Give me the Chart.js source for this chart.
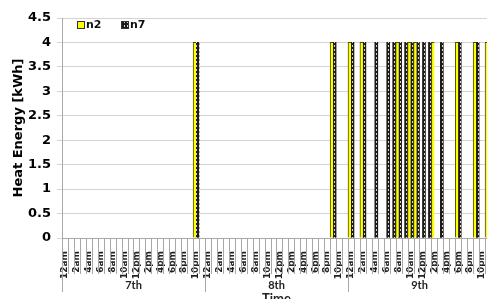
<!DOCTYPE html>
<html lang="en">
<head>
  <meta charset="UTF-8" />
  <title>Heat Energy</title>
  <script src="https://cdn.jsdelivr.net/npm/chart.js"></script>
  <style>
    html, body { margin: 0; padding: 0; background: #fff; overflow: hidden; }
    #wrap { width: 492px; height: 299px; }
  </style>
</head>
<body>
  <div id="wrap"><canvas id="heatChart" width="492" height="299"></canvas></div>

  <script>
    // Days shown on the second axis row, hour labels for each day
    const days = ['7th', '8th', '9th'];
    const hours = ['12am', '1am', '2am', '3am', '4am', '5am', '6am', '7am', '8am', '9am', '10am', '11am',
                   '12pm', '1pm', '2pm', '3pm', '4pm', '5pm', '6pm', '7pm', '8pm', '9pm', '10pm', '11pm'];
    const categories = days.flatMap(() => hours);

    // Heat energy [kWh] per hour, 7th / 8th / 9th
    const n2 = [
      0, 0, 0, 0, 0, 0, 0, 0, 0, 0, 0, 0, 0, 0, 0, 0, 0, 0, 0, 0, 0, 0, 4, 0,
      0, 0, 0, 0, 0, 0, 0, 0, 0, 0, 0, 0, 0, 0, 0, 0, 0, 0, 0, 0, 0, 4, 0, 0,
      4, 0, 4, 0, 0, 0, 0, 0, 4, 0, 4, 4, 0, 0, 4, 0, 0, 0, 4, 0, 0, 4, 0, 4
    ];
    const n7 = [
      0, 0, 0, 0, 0, 0, 0, 0, 0, 0, 0, 0, 0, 0, 0, 0, 0, 0, 0, 0, 0, 0, 4, 0,
      0, 0, 0, 0, 0, 0, 0, 0, 0, 0, 0, 0, 0, 0, 0, 0, 0, 0, 0, 0, 0, 4, 0, 0,
      4, 0, 4, 0, 4, 0, 4, 4, 4, 4, 4, 4, 4, 4, 0, 4, 0, 0, 4, 0, 0, 4, 0, 0
    ];

    const FONT = 'Lato, "Open Sans", sans-serif';
    const WIDE = '"DejaVu Sans", sans-serif';

    // dark hatch for n7
    function hatch() {
      const c = document.createElement('canvas');
      c.width = 3; c.height = 4;
      const g = c.getContext('2d');
      g.fillStyle = '#1e1b1b';
      g.fillRect(0, 0, 3, 4);
      g.fillStyle = '#d8d0d0';
      g.fillRect(1, 1, 1, 2);
      return g.createPattern(c, 'repeat');
    }
    const n7Fill = hatch();

    // tick lines, day row, "Time" and the legend
    const axisExtras = {
      id: 'axisExtras',
      afterDraw(chart) {
        const { ctx, chartArea: a, scales: { x } } = chart;
        const slot = x.getPixelForValue(1) - x.getPixelForValue(0);
        ctx.save();
        ctx.strokeStyle = '#a8a8a8';
        ctx.lineWidth = 1;
        for (let i = 0; i <= categories.length; i++) {
          const px = Math.round(x.getPixelForValue(0) - slot / 2 + i * slot) + 0.5;
          const len = i % hours.length === 0 ? 54 : 36;
          ctx.beginPath();
          ctx.moveTo(px, a.bottom + 1);
          ctx.lineTo(px, a.bottom + len);
          ctx.stroke();
        }

        ctx.fillStyle = '#222';
        ctx.font = 'bold 11px ' + FONT;
        ctx.textAlign = 'center';
        ctx.textBaseline = 'middle';
        days.forEach((d, i) => {
          const mid = x.getPixelForValue(i * hours.length) - slot / 2 + slot * hours.length / 2;
          ctx.fillText(d, mid, a.bottom + 47);
        });

        ctx.font = 'bold 13px ' + FONT;
        ctx.textBaseline = 'top';
        ctx.fillText('Time', (a.left + a.right) / 2, a.bottom + 54);

        // legend inside the plot
        const items = [[77, 86], [121, 130]];
        const swatch = ['#ffff00', n7Fill];
        chart.data.datasets.forEach((ds, i) => {
          const [bx, tx] = items[i];
          ctx.fillStyle = swatch[i];
          ctx.fillRect(bx, 21, 7, 7);
          ctx.strokeStyle = '#333';
          ctx.strokeRect(bx + 0.5, 21.5, 7, 7);
          ctx.fillStyle = '#111';
          ctx.font = 'bold 11px ' + WIDE;
          ctx.textAlign = 'left';
          ctx.textBaseline = 'middle';
          ctx.fillText(ds.label, tx, 25);
        });
        ctx.restore();
      }
    };

    const ctx = document.getElementById('heatChart').getContext('2d');
    new Chart(ctx, {
      type: 'bar',
      data: {
        labels: categories,
        datasets: [
          {
            label: 'n2',
            data: n2,
            // empty hours stay invisible, otherwise specks show along the axis
            backgroundColor: c => (c.raw ? '#ffff00' : 'rgba(0,0,0,0)'),
            borderColor: '#4a4a1a',
            borderWidth: c => (c.raw ? { left: 1, right: 0, top: 1, bottom: 0 } : 0),
            borderSkipped: false
          },
          {
            label: 'n7',
            data: n7,
            backgroundColor: c => (c.raw ? n7Fill : 'rgba(0,0,0,0)'),
            borderWidth: 0
          }
        ]
      },
      options: {
        responsive: false,
        animation: false,
        layout: { padding: { top: 18, right: 1, bottom: 0, left: 0 } },
        datasets: { bar: { categoryPercentage: 1.0, barPercentage: 1.0 } },
        plugins: { legend: { display: false }, tooltip: { enabled: false } },
        scales: {
          x: {
            grid: { display: false },
            border: { color: '#a8a8a8' },
            ticks: {
              autoSkip: false,
              minRotation: 90,
              maxRotation: 90,
              padding: 5,
              color: '#222',
              font: { family: WIDE, size: 9, weight: 'bold' },
              callback: (v, i) => (i % 2 === 0 ? categories[i] : '')
            },
            afterFit: s => { s.height = 61; s.paddingLeft = 0; s.paddingRight = 0; }
          },
          y: {
            min: 0,
            max: 4.5,
            grid: { color: '#d4d4d4', tickLength: 5 },
            border: { color: '#a8a8a8' },
            ticks: {
              stepSize: 0.5,
              padding: 6,
              color: '#000',
              font: { family: WIDE, size: 13, weight: 'bold' },
              callback: v => String(v)
            },
            title: {
              display: true,
              text: 'Heat Energy [kWh]',
              color: '#000',
              padding: { top: 11, bottom: 0 },
              font: { family: WIDE, size: 13, weight: 'bold' }
            },
            afterFit: s => { s.width = 62; }
          }
        }
      },
      plugins: [axisExtras]
    });
  </script>
</body>
</html>
